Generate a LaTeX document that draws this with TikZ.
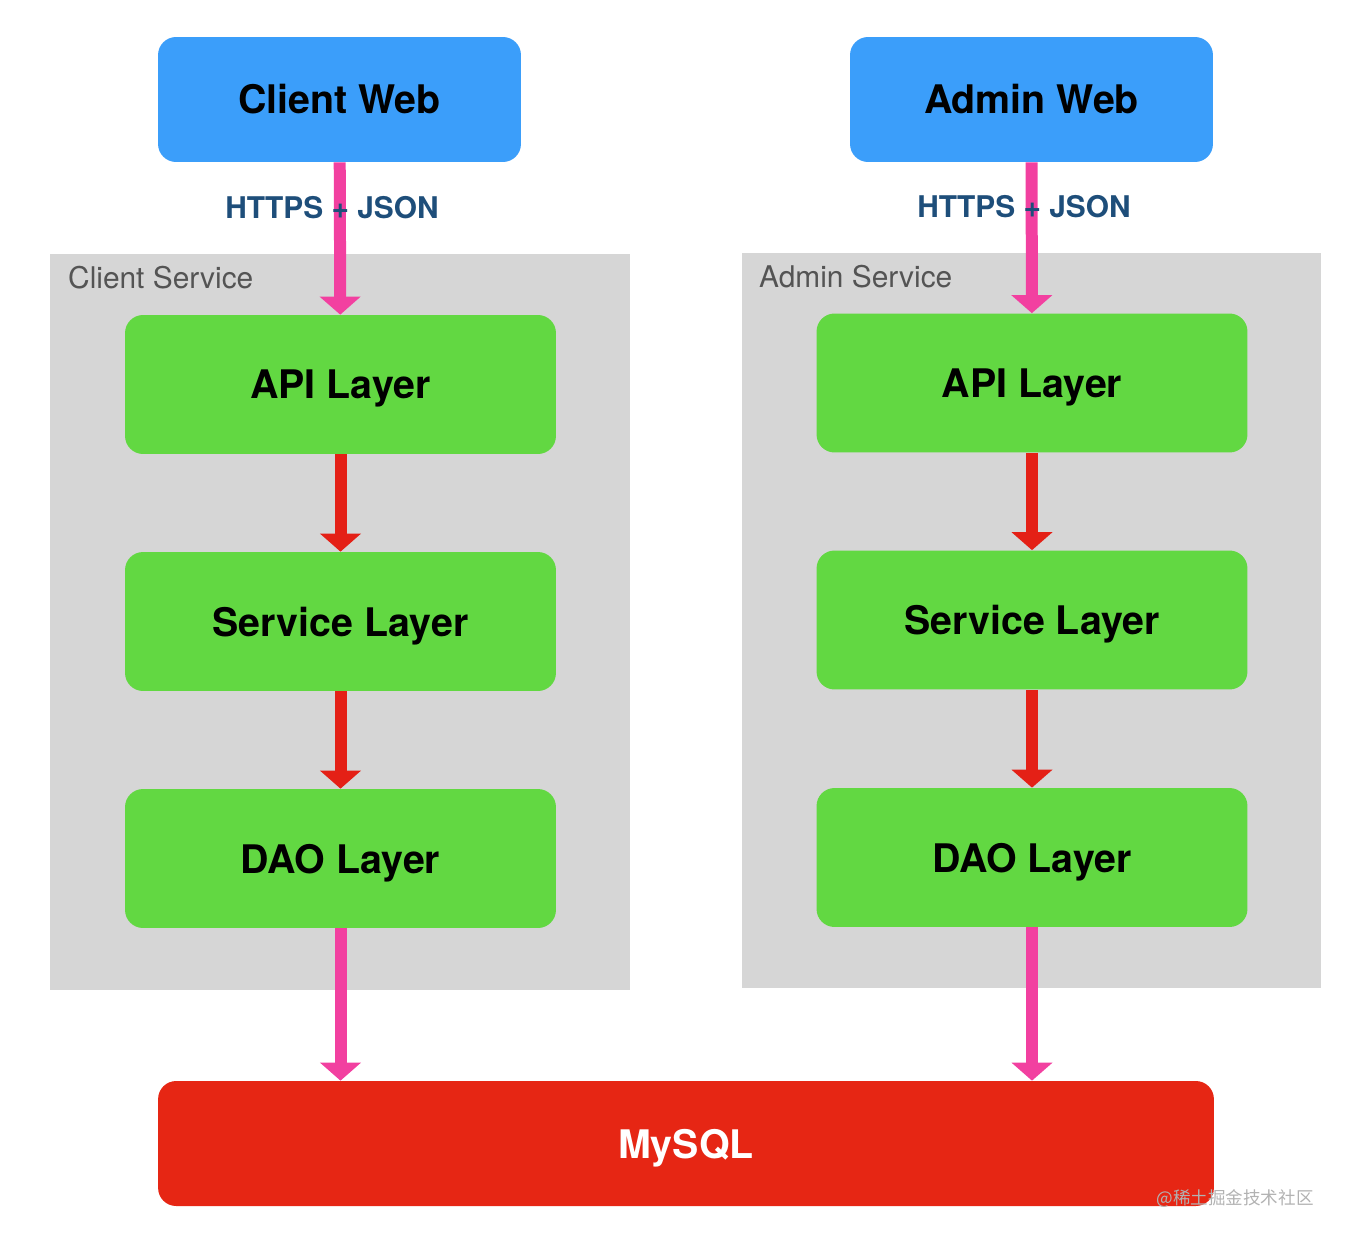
\documentclass[tikz,border=0pt]{standalone}
\usepackage{fontspec}
\setmainfont{TeX Gyre Heros}
\newfontfamily\cjkfont{Noto Sans CJK SC}
\usetikzlibrary{arrows.meta,positioning}

\definecolor{webblue}{RGB}{59,158,250}
\definecolor{layergreen}{RGB}{98,216,66}
\definecolor{svcgray}{RGB}{214,214,214}
\definecolor{dbred}{RGB}{230,38,20}
\definecolor{linkpink}{RGB}{242,64,160}
\definecolor{callred}{RGB}{228,32,22}
\definecolor{protoblue}{RGB}{30,78,122}

\begin{document}
\begin{tikzpicture}[x=0.02cm,y=-0.02cm,
 web/.style={fill=webblue,rounded corners=0.36cm,minimum width=7.26cm,minimum height=2.5cm,font=\fontsize{22.4}{26}\selectfont\bfseries},
 layer/.style={fill=layergreen,rounded corners=0.36cm,minimum width=8.62cm,minimum height=2.78cm,text depth=0pt,font=\fontsize{22.4}{26}\selectfont\bfseries},
 service/.style={fill=svcgray,minimum width=11.6cm,minimum height=14.72cm,inner sep=0pt},
 svclabel/.style={anchor=west,text=black!67,font=\fontsize{17}{20}\selectfont},
 proto/.style={text=protoblue,font=\fontsize{17}{20}\selectfont\bfseries},
 link/.style={draw=linkpink,line width=0.24cm,-{Triangle[width=0.8cm,length=0.36cm]}},
 call/.style={draw=callred,line width=0.24cm,-{Triangle[width=0.8cm,length=0.36cm]}}]
\useasboundingbox (0,0) rectangle (1356,1254);

% services
\node[service] (cservice) at (340,622) {};
\node[service] (aservice) at (1031.5,620.5) {};
\node[svclabel] at (62,278) {Client Service};
\node[svclabel] at (753,277) {Admin Service};

% webs
\node[web] (cweb) at (339.5,99.5) {Client Web};
\node[web] (aweb) at (1031.5,99.5) {Admin Web};

% layers
\node[layer] (capi) at (340.5,384.5) {API Layer};
\node[layer] (csvc) at (340.5,621.5) {Service Layer};
\node[layer] (cdao) at (340.5,858.5) {DAO Layer};
\node[layer] (aapi) at (1032,383) {API Layer};
\node[layer] (asvc) at (1032,620) {Service Layer};
\node[layer] (adao) at (1032,857.5) {DAO Layer};

% database
\node[fill=dbred,rounded corners=0.36cm,minimum width=21.12cm,minimum height=2.5cm,text depth=0pt,text=white,font=\fontsize{22.4}{26}\selectfont\bfseries] (mysql) at (686,1143.5) {MySQL};

% arrows
\draw[link] (cweb) -- (capi);
\draw[link] (aweb) -- (aapi);
\draw[call] (capi) -- (csvc);
\draw[call] (csvc) -- (cdao);
\draw[call] (aapi) -- (asvc);
\draw[call] (asvc) -- (adao);
\draw[link] (cdao) -- (mysql.north -| cdao);
\draw[link] (adao) -- (mysql.north -| adao);

% protocol labels
\node[proto] (cproto) at (332,208) {HTTPS + JSON};
\node[proto] (aproto) at (1024,207) {HTTPS + JSON};

\node[text=black!30,font=\cjkfont\fontsize{10}{12}\selectfont] (mark) at (1235,1199) {@稀土掘金技术社区};
\end{tikzpicture}
\end{document}
